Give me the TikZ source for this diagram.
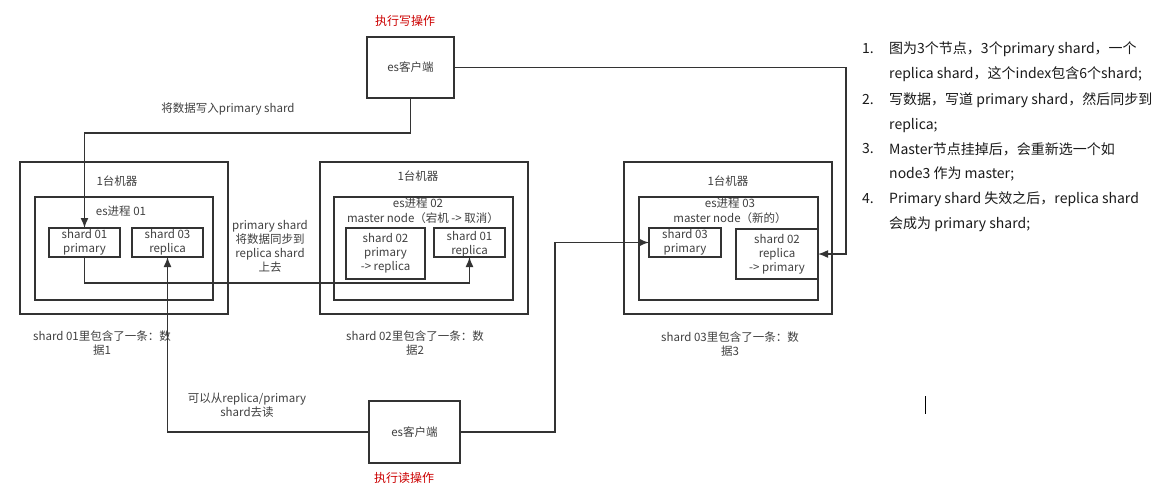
\documentclass[tikz,border=0pt]{standalone}
\usepackage{fontspec}
\setmainfont{Noto Sans CJK SC}
\usetikzlibrary{arrows.meta}
\definecolor{ln}{HTML}{333333}
\definecolor{tx}{HTML}{404040}
\definecolor{rd}{HTML}{CC0000}
\definecolor{lt}{HTML}{1A1A1A}
\tikzset{
  box/.style={draw=ln, line width=1.8pt, inner sep=0pt, outer sep=0pt},
  lbl/.style={text=tx, font=\fontsize{11.5}{14}\selectfont, inner sep=0pt, align=center},
  red/.style={text=rd, font=\fontsize{12}{14}\selectfont, inner sep=0pt},
  lst/.style={text=lt, font=\fontsize{14}{17}\selectfont, inner sep=0pt, anchor=west},
  conn/.style={draw=ln, line width=1.5pt},
  arr/.style={conn, -{Latex[length=10pt,width=8pt]}}
}
\begin{document}
\begin{tikzpicture}[x=1pt,y=-1pt]
\useasboundingbox (0,0) rectangle (1172,493);
\fill[white] (0,0) rectangle (1172,493);

% clients
\node[box, minimum width=87pt, minimum height=61pt] (wc) at (410.5,67.5) {};
\node[lbl] at (wc.center) {es客户端};
\node[red] (wl) at (405,21) {执行写操作};
\node[box, minimum width=91pt, minimum height=62pt] (rc) at (414.5,432) {};
\node[lbl] at (rc.center) {es客户端};
\node[red] (rl) at (404,478) {执行读操作};

% machines
\node[box, minimum width=208pt, minimum height=152pt] (m1) at (124,238) {};
\node[box, minimum width=208pt, minimum height=152pt] (m2) at (424,238) {};
\node[box, minimum width=208pt, minimum height=152pt] (m3) at (728,238) {};
\node[lbl] at (117,181) {1台机器};
\node[lbl] at (418,176) {1台机器};
\node[lbl] at (728,181) {1台机器};

% processes
\node[box, minimum width=178pt, minimum height=103pt] (e1) at (124,248.5) {};
\node[box, minimum width=179pt, minimum height=103pt] (e2) at (423.5,248.5) {};
\node[box, minimum width=179pt, minimum height=103pt] (e3) at (728.5,248.5) {};
\node[lbl] at (121,211) {es进程 01};
\node[lbl] at (418,203) {es进程 02};
\node[lbl] at (423,218) {master node（宕机 -> 取消）};
\node[lbl] at (730,203) {es进程 03};
\node[lbl] at (730,218) {master node（新的）};

% shards
\node[box, minimum width=71pt, minimum height=29pt] (s1p) at (84.5,242.5) {};
\node[lbl] at (s1p.center) {shard 01\\primary};
\node[box, minimum width=71pt, minimum height=29pt] (s3r) at (167.5,242.5) {};
\node[lbl] at (s3r.center) {shard 03\\replica};
\node[box, minimum width=79pt, minimum height=51pt] (s2p) at (385.5,253.5) {};
\node[lbl] at (s2p.center) {shard 02\\primary\\-> replica};
\node[box, minimum width=71pt, minimum height=29pt] (s1r) at (469.5,242.5) {};
\node[lbl] at ([yshift=-1.5pt]s1r.center) {shard 01\\replica};
\node[box, minimum width=72pt, minimum height=29pt] (s3p) at (685,242.5) {};
\node[lbl] at (s3p.center) {shard 03\\primary};
\node[box, minimum width=82pt, minimum height=50pt] (s2r) at (777,254) {};
\node[lbl] at (s2r.center) {shard 02\\replica\\-> primary};

% captions
\node[lbl] at (102,343) {shard 01里包含了一条：数\\据1};
\node[lbl] at (415,343) {shard 02里包含了一条：数\\据2};
\node[lbl] at (730,344) {shard 03里包含了一条：数\\据3};
\node[lbl] at (228,109) {将数据写入primary shard};
\node[lbl] at (270,246) {primary shard\\将数据同步到\\replica shard\\上去};
\node[lbl] at (247,405) {可以从replica/primary\\shard去读};

% connectors
\draw[arr] (wc.south) -- ++(0,35) -| (s1p.north);
\draw[arr] (wc.east) -- ++(392,0) |- (s2r.east);
\draw[arr] (s1p.south) -- ++(0,26) -| (s1r.south);
\draw[arr] (rc.west) -| (s3r.south);
\draw[arr] (rc.east) -- ++(95,0) |- (s3p.west);

% notes
\foreach \n/\y in {1/49,2/100,3/149,4/199}
  \node[lst] (n\n) at (862,\y) {\n.};
\node[lst] (t1) at (889,49) {图为3个节点，3个primary shard，一个};
\node[lst] (t2) at (889,74) {replica shard，这个index包含6个shard;};
\node[lst] (t3) at (889,100) {写数据，写道 primary shard，然后同步到};
\node[lst] (t4) at (889,126) {replica;};
\node[lst] (t5) at (889,149) {Master节点挂掉后，会重新选一个如};
\node[lst] (t6) at (889,174) {node3 作为 master;};
\node[lst] (t7) at (889,199) {Primary shard 失效之后，replica shard};
\node[lst] (t8) at (889,224) {会成为 primary shard;};

% text cursor
\draw[black, line width=1pt] (925.5,396) -- (925.5,414);
\end{tikzpicture}
\end{document}
